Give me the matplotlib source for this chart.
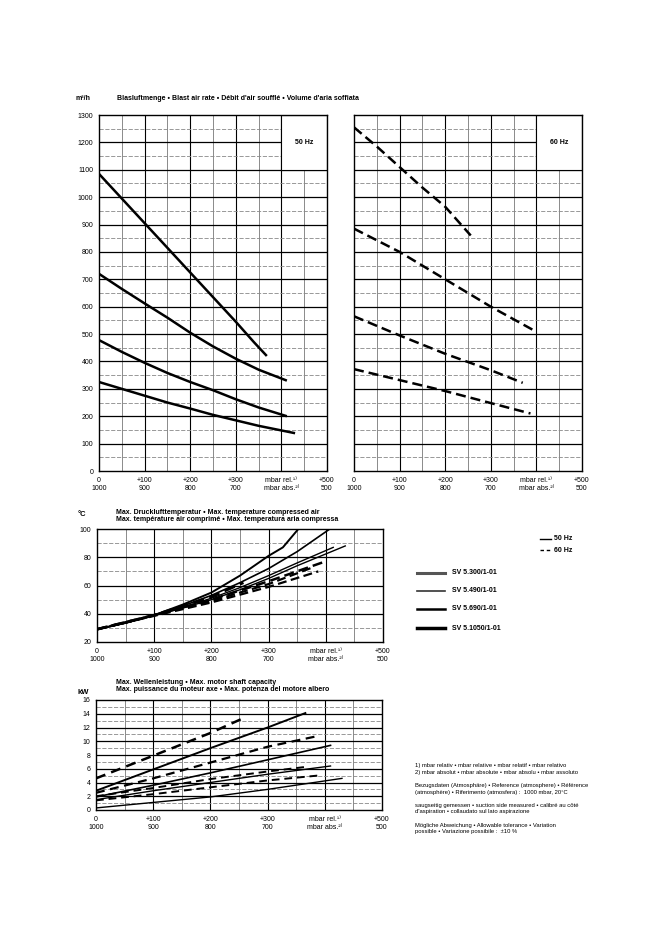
import matplotlib
matplotlib.use("Agg")
import matplotlib.pyplot as plt
from matplotlib.lines import Line2D
from matplotlib.patches import Rectangle

plt.rcParams['font.family'] = ['Liberation Sans', 'DejaVu Sans']

# ---------------- data ----------------
pressure_ticks = [0, 100, 200, 300, 400, 500]
xtick_labels = ["0\n1000", "+100\n900", "+200\n800", "+300\n700",
                "mbar rel.¹⁾\nmbar abs.²⁾", "+500\n500"]
models = ["SV 5.300/1-01", "SV 5.490/1-01", "SV 5.690/1-01", "SV 5.1050/1-01"]

# blast air rate, m3/h  (order as models)
flow50_p = [[0, 50, 100, 150, 200, 250, 300, 350, 430],
            [0, 50, 100, 150, 200, 250, 300, 350, 412],
            [0, 50, 100, 150, 200, 250, 300, 350, 412],
            [0, 50, 100, 150, 200, 250, 300, 340, 368]]
flow50_q = [[325, 300, 275, 250, 228, 205, 185, 165, 138],
            [478, 435, 395, 358, 325, 295, 262, 232, 200],
            [720, 665, 612, 560, 505, 455, 410, 370, 330],
            [1085, 995, 905, 815, 725, 635, 545, 470, 420]]
flow60_p = [[0, 100, 200, 300, 387],
            [0, 100, 200, 300, 370],
            [0, 100, 200, 300, 396],
            [0, 50, 100, 150, 200, 256]]
flow60_q = [[372, 332, 292, 248, 210],
            [565, 495, 428, 368, 322],
            [885, 800, 700, 600, 512],
            [1255, 1185, 1110, 1035, 965, 860]]

# max. compressed air temperature, degC
temp50_p = [[0, 50, 100, 150, 200, 250, 300, 350, 434],
            [0, 50, 100, 150, 200, 250, 300, 350, 413],
            [0, 50, 100, 150, 200, 250, 300, 350, 407],
            [0, 50, 100, 150, 200, 250, 300, 325, 352]]
temp50_t = [[29, 33.5, 39, 44, 50, 57, 65, 74, 88],
            [29, 33.5, 39, 44.5, 51, 58.5, 67, 76, 87],
            [29, 33.5, 39, 45.5, 53, 62, 72, 84, 100],
            [29, 33.5, 39, 46.5, 55, 67, 81, 87, 100]]
temp60_p = [[0, 100, 200, 300, 387],
            [0, 100, 200, 300, 375],
            [0, 100, 200, 300, 399],
            [0, 100, 200, 256]]
temp60_t = [[29, 38.5, 48, 59, 70],
            [29, 39, 49, 61, 72.5],
            [29, 39, 50, 63, 77],
            [29, 39, 52, 62]]

# max. motor shaft capacity, kW
power50_p = [[0, 100, 200, 300, 430],
             [0, 100, 200, 300, 410],
             [0, 100, 200, 300, 410],
             [0, 100, 200, 300, 366]]
power50_w = [[0.3, 1.1, 1.9, 3.0, 4.6],
             [1.5, 2.8, 4.0, 5.2, 6.4],
             [1.9, 3.6, 5.4, 7.3, 9.4],
             [2.8, 5.9, 9.0, 12.0, 14.1]]
power60_p = [[0, 100, 200, 300, 387],
             [0, 100, 200, 300, 370],
             [0, 100, 200, 300, 390],
             [0, 100, 200, 256]]
power60_w = [[1.4, 2.3, 3.3, 4.3, 5.0],
             [2.0, 3.2, 4.5, 5.6, 6.3],
             [2.5, 4.6, 6.9, 9.2, 10.8],
             [4.6, 7.9, 11.2, 13.3]]

flow_ticks = list(range(0, 1301, 100))
temp_ticks = [20, 40, 60, 80, 100]
power_ticks = list(range(0, 17, 2))

# ---------------- layout helpers ----------------
W, H = 662, 936
fig = plt.figure(figsize=(W / 100, H / 100), dpi=100)


def fx(px):
    return px / W


def fy(py):
    return 1 - py / H


def rect(x0, y0, x1, y1):
    return [fx(x0), fy(y1), (x1 - x0) / W, (y1 - y0) / H]


FS = 5.0


def setup(ax, ymin, ymax, major_y, minor_y, ylabels=True):
    ax.set_xlim(0, 500)
    ax.set_ylim(ymin, ymax)
    for v in range(0, 501, 50):
        if v in (0, 500):
            continue
        ax.axvline(v, color='black' if v % 100 == 0 else '#777777',
                   lw=0.8 if v % 100 == 0 else 0.6, zorder=1)
    for v in minor_y:
        ax.axhline(v, color='#888888', lw=0.6, ls=(0, (5, 2)), zorder=1)
    for v in major_y:
        if v in (ymin, ymax):
            continue
        ax.axhline(v, color='black', lw=0.9, zorder=1)
    ax.set_xticks(pressure_ticks)
    ax.set_xticklabels(xtick_labels, fontsize=FS, linespacing=1.25)
    ax.set_yticks(major_y)
    if ylabels:
        ax.set_yticklabels([str(v) for v in major_y], fontsize=FS)
    else:
        ax.set_yticklabels([])
    ax.tick_params(length=0, pad=4)
    for s in ax.spines.values():
        s.set_linewidth(1.0)
        s.set_color('black')


# ---------------- top panels: blast air rate ----------------
ax1 = fig.add_axes(rect(99, 115, 327, 471))
ax2 = fig.add_axes(rect(354, 115, 582, 471))
for ax, show in ((ax1, True), (ax2, False)):
    setup(ax, 0, 1300, flow_ticks, list(range(50, 1300, 100)), ylabels=show)
    ax.add_patch(Rectangle((400, 1100), 100, 200, facecolor='white',
                           edgecolor='black', lw=0.8, zorder=2))

for p, q in zip(flow50_p, flow50_q):
    ax1.plot(p, q, color='black', lw=1.8, solid_capstyle='butt', zorder=3)
for p, q in zip(flow60_p, flow60_q):
    ax2.plot(p, q, color='black', lw=1.8, ls=(0, (4, 2)), zorder=3)
ax1.text(450, 1200, "50 Hz", fontsize=FS, fontweight='bold', ha='center', va='center', zorder=4)
ax2.text(450, 1200, "60 Hz", fontsize=FS, fontweight='bold', ha='center', va='center', zorder=4)

fig.text(fx(75), fy(99), "m³/h", fontsize=FS, fontweight='bold', va='center')
fig.text(fx(117), fy(99),
         "Blasluftmenge • Blast air rate • Débit d'air soufflé • Volume d'aria soffiata",
         fontsize=FS, fontweight='bold', va='center')

# ---------------- middle panel: temperature ----------------
lw_model = [1.0, 1.0, 1.2, 1.4]
ax3 = fig.add_axes(rect(97, 529, 383, 642))
setup(ax3, 20, 100, temp_ticks, [30, 50, 70, 90])
for p, t, lw in zip(temp50_p, temp50_t, lw_model):
    ax3.plot(p, t, color='black', lw=lw, zorder=3)
for p, t, lw in zip(temp60_p, temp60_t, lw_model):
    ax3.plot(p, t, color='black', lw=lw + 0.6, ls=(0, (4, 2)), zorder=3)
fig.text(fx(78), fy(514), "°C", fontsize=FS + 0.5, fontweight='bold', va='center')
fig.text(fx(116), fy(513), "Max. Drucklufttemperatur • Max. temperature compressed air",
         fontsize=FS, fontweight='bold', va='center')
fig.text(fx(116), fy(519.5), "Max. température air comprimé • Max. temperatura aria compressa",
         fontsize=FS, fontweight='bold', va='center')

# ---------------- bottom panel: power ----------------
ax4 = fig.add_axes(rect(96, 700, 382, 810))
setup(ax4, 0, 16, power_ticks, list(range(1, 16, 2)))
for p, w, lw in zip(power50_p, power50_w, lw_model):
    ax4.plot(p, w, color='black', lw=lw, zorder=3)
for p, w, lw in zip(power60_p, power60_w, lw_model):
    ax4.plot(p, w, color='black', lw=lw + 0.4, ls=(0, (4, 2.5)), zorder=3)
fig.text(fx(78), fy(693), "kW", fontsize=FS + 0.5, fontweight='bold', va='center')
fig.text(fx(116), fy(683), "Max. Wellenleistung • Max. motor shaft capacity",
         fontsize=FS, fontweight='bold', va='center')
fig.text(fx(116), fy(689.5), "Max. puissance du moteur axe • Max. potenza del motore albero",
         fontsize=FS, fontweight='bold', va='center')

# ---------------- legend ----------------
fig.add_artist(Line2D([fx(540), fx(551)], [fy(539), fy(539)], color='black', lw=1.0))
fig.add_artist(Line2D([fx(540), fx(551)], [fy(550), fy(550)], color='black', lw=1.0, ls=(0, (2.5, 2))))
fig.text(fx(554), fy(539), "50 Hz", fontsize=FS, fontweight='bold', va='center')
fig.text(fx(554), fy(550), "60 Hz", fontsize=FS, fontweight='bold', va='center')

leg_y = [573, 591, 609, 628]
leg_style = [dict(color='#555555', lw=2.2), dict(color='#333333', lw=1.2),
             dict(color='black', lw=1.8), dict(color='black', lw=2.5)]
for name, yy, st in zip(models, leg_y, leg_style):
    fig.add_artist(Line2D([fx(417), fx(445)], [fy(yy), fy(yy)], **st))
    fig.text(fx(452), fy(yy), name, fontsize=FS, fontweight='bold', va='center')

# ---------------- footnotes ----------------
notes = [
    (765.5, "1) mbar relativ • mbar relative • mbar relatif • mbar relativo"),
    (772.5, "2) mbar absolut • mbar absolute • mbar absolu • mbar assoluto"),
    (786, "Bezugsdaten (Atmosphäre) • Reference (atmosphere) • Référence"),
    (792.5, "(atmosphère) • Riferimento (atmosfera) :  1000 mbar, 20°C"),
    (805, "saugseitig gemessen • suction side measured • calibré au côté"),
    (811.5, "d'aspiration • collaudato sul lato aspirazione"),
    (825, "Mögliche Abweichung • Allowable tolerance • Variation"),
    (831.5, "possible • Variazione possibile :  ±10 %"),
]
for yy, txt in notes:
    fig.text(fx(415), fy(yy), txt, fontsize=4.2, va='center')

fig.savefig("out.png", dpi=100, facecolor='white')
